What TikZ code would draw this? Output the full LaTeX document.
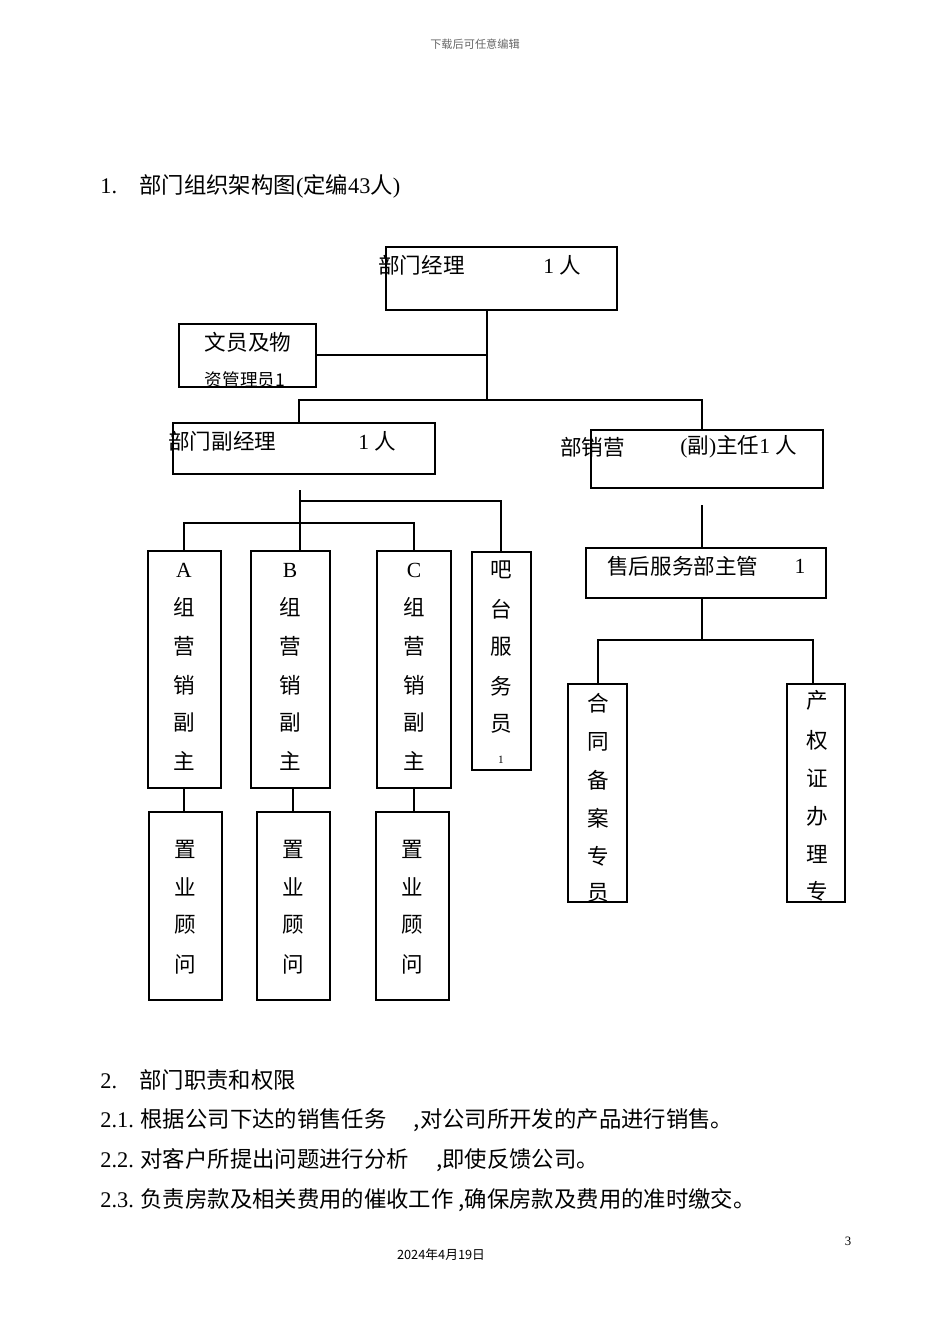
\documentclass[tikz,border=0pt]{standalone}
\usepackage{fontspec}
\setmainfont{Liberation Serif}
\newfontfamily\cjk{Noto Sans CJK SC}
\begin{document}
\begin{tikzpicture}[x=0.626pt,y=-0.626pt,
  bx/.style={draw,line width=0.8pt},
  ln/.style={line width=0.8pt},
  ch/.style={font=\cjk\fontsize{13.5}{14}\selectfont,inner sep=0,anchor=center},
  tx/.style={font=\cjk\fontsize{14}{15}\selectfont,inner sep=0,anchor=west}]
\useasboundingbox (0,0) rectangle (950,1344);
\node[font=\cjk\fontsize{7}{8}\selectfont,text=black!60] (hd) at (475,44) {下载后可任意编辑};
\node[tx] (t1) at (100,186) {{\rmfamily 1.}\quad 部门组织架构图{\rmfamily(}定编{\rmfamily 43}人{\rmfamily)}};
% boxes
\draw[bx] (386,247) rectangle (617,310);
\node[ch,anchor=west] (n1) at (378,265) {部门经理};
\node[ch,anchor=west] (n1b) at (543,265) {{\rmfamily 1 }人};
\begin{scope}\clip (179,324) rectangle (316,387);
\node[ch] (w1) at (248,342) {文员及物};
\node[ch,font=\cjk\fontsize{11}{12}\selectfont] (w2) at (245,380) {资管理员1};
\end{scope}
\draw[bx] (179,324) rectangle (316,387);
\draw[ln] (487,310) -- (487,400) (316,355) -- (487,355) (299,423) -- (299,400) -- (702,400) -- (702,430);
\draw[bx] (173,423) rectangle (435,474);
\node[ch,anchor=west] (n2) at (168,441) {部门副经理};
\node[ch,anchor=west] (n2b) at (358,441) {{\rmfamily 1 }人};
\draw[bx] (591,430) rectangle (823,488);
\node[ch,anchor=west] (n3) at (560,447) {部销营};
\node[ch,anchor=west] (n3b) at (680,447) {{\rmfamily(}副{\rmfamily)}主任{\rmfamily 1 }人};
% left branch
\draw[ln] (300,490) -- (300,551) (300,501) -- (501,501) -- (501,552) (184,551) -- (184,523) -- (414,523) -- (414,551);
\foreach \x/\a/\b/\c in {184/A/148/221, 290/B/251/330, 414/C/377/451}{
  \draw[bx] (\b,551) rectangle (\c,788);
  \node[ch] at (\x,570) {\rmfamily\a};
  \foreach \t/\y in {组/607,营/646,销/685,副/723,主/761} \node[ch] at (\x,\y) {\t};
}
\draw[bx] (472,552) rectangle (531,770);
\foreach \t/\y in {吧/570,台/609,服/647,务/686,员/724} \node[ch] at (501,\y) {\t};
\node[ch,font=\fontsize{7}{8}\selectfont] at (501,760) {1};
\draw[ln] (184,788) -- (184,812) (293,788) -- (293,813) (414,788) -- (414,813);
\foreach \b/\c in {149/222,257/330,376/449}{
  \draw[bx] (\b,812) rectangle (\c,1000);
  \foreach \t/\y in {置/849,业/887,顾/925,问/964} \node[ch] at ({(\b+\c)/2},\y) {\t};
}
% right branch
\draw[ln] (702,505) -- (702,548) (702,598) -- (702,640) (598,684) -- (598,640) -- (813,640) -- (813,684);
\draw[bx] (586,548) rectangle (826,598);
\node[ch,anchor=west] (n4) at (607,566) {售后服务部主管};
\node[ch] (n4b) at (800,566) {\rmfamily 1};
\begin{scope}\clip (568,684) rectangle (627,902);
\foreach \t/\y in {合/703,同/742,备/780,案/818,专/856,员/893} \node[ch] at (598,\y) {\t};
\end{scope}
\draw[bx] (568,684) rectangle (627,902);
\begin{scope}\clip (787,684) rectangle (845,902);
\foreach \t/\y in {产/700,权/740,证/778,办/816,理/854,专/891} \node[ch] at (817,\y) {\t};
\end{scope}
\draw[bx] (787,684) rectangle (845,902);
% text
\node[tx] (s2) at (100,1080) {{\rmfamily 2.}\quad 部门职责和权限};
\node[tx] (s21) at (100,1120) {{\rmfamily 2.1.} 根据公司下达的销售任务\quad\ ,对公司所开发的产品进行销售。};
\node[tx] (s22) at (100,1160) {{\rmfamily 2.2.} 对客户所提出问题进行分析\quad\ ,即使反馈公司。};
\node[tx] (s23) at (100,1200) {{\rmfamily 2.3.} 负责房款及相关费用的催收工作\ ,确保房款及费用的准时缴交。};
\node[font=\fontsize{8}{9}\selectfont] (pg) at (848,1241) {3};
\node[font=\cjk\fontsize{8}{9}\selectfont] (dt) at (441,1255) {2024年4月19日};
\end{tikzpicture}
\end{document}
